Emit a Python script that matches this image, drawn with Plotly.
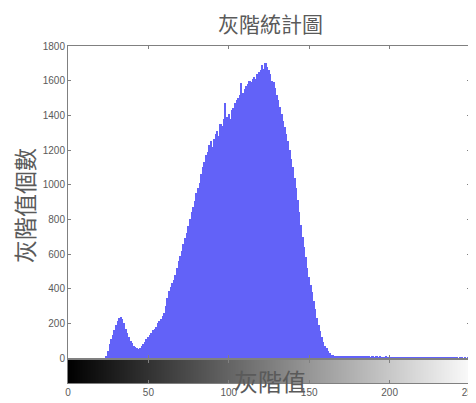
import plotly.graph_objects as go

levels = list(range(256))
counts = [
    0, 0, 0, 0, 0, 0, 0, 0, 0, 0, 0, 0, 0, 0, 0, 0,
    0, 0, 0, 0, 0, 0, 0, 0, 10, 40, 80, 110, 130, 160, 190, 215,
    230, 238, 225, 200, 170, 145, 120, 100, 85, 70, 62, 55, 50, 58, 70, 82,
    95, 110, 120, 135, 145, 160, 170, 180, 200, 215, 225, 240, 260, 300, 345, 385,
    410, 430, 450, 480, 520, 560, 590, 620, 655, 690, 720, 760, 800, 840, 870, 905,
    950, 980, 1010, 1060, 1100, 1130, 1170, 1190, 1230, 1250, 1215, 1265, 1290, 1310, 1280, 1350,
    1340, 1380, 1470, 1390, 1410, 1380, 1430, 1440, 1470, 1490, 1500, 1520, 1585, 1530, 1550, 1570,
    1580, 1600, 1590, 1610, 1620, 1610, 1640, 1650, 1660, 1690, 1670, 1700, 1680, 1660, 1640, 1600,
    1590, 1560, 1520, 1490, 1450, 1410, 1370, 1330, 1290, 1250, 1200, 1150, 1100, 1040, 980, 910,
    840, 770, 700, 640, 580, 520, 470, 420, 380, 330, 280, 230, 190, 155, 120, 95,
    70, 55, 40, 28, 20, 15, 12, 10, 11, 9, 10, 8, 9, 10, 8, 9,
    7, 8, 9, 7, 8, 6, 7, 8, 6, 7, 6, 7, 5, 6, 7, 5,
    6, 5, 6, 5, 4, 5, 6, 4, 5, 4, 3, 4, 5, 3, 4, 3,
    4, 3, 2, 3, 4, 3, 2, 3, 2, 3, 2, 2, 3, 2, 2, 3,
    2, 2, 1, 2, 2, 1, 2, 1, 2, 1, 1, 2, 1, 1, 1, 2,
    1, 1, 1, 0, 1, 1, 0, 1, 0, 1, 0, 0, 1, 0, 0, 0,
]
y_ticks = [0, 200, 400, 600, 800, 1000, 1200, 1400, 1600, 1800]
x_ticks = [0, 50, 100, 150, 200, 250]

title_text = "灰階統計圖"
ylabel_text = "灰階值個數"
xlabel_text = "灰階值"

CJK = "Noto Sans CJK TC"
GRAY = "#808080"
TXT = "#5a5a5a"

# the page body has an 8px default margin, so the figure is shifted by 8px
OFF = 8
W, H = 476 - OFF, 403 - OFF
L = 68 - OFF
R = W - (470 - OFF)
T = 46 - OFF
B = H - (383 - OFF)
PW = W - L - R
PH = H - T - B


def px(xp):
    return (xp - OFF - L) / PW


def py(yp):
    return (H - (yp - OFF) - B) / PH


fig = go.Figure()
fig.add_trace(go.Bar(
    x=levels, y=counts, width=1.0,
    marker=dict(color="rgb(98,98,248)", line=dict(width=0)),
    xaxis="x", yaxis="y", showlegend=False,
))
fig.add_trace(go.Heatmap(
    x=levels, y=[0], z=[levels],
    colorscale=[[0, "black"], [1, "white"]], zmin=0, zmax=255,
    showscale=False, xaxis="x2", yaxis="y2",
))

common_x = dict(range=[0, 250], tickvals=x_ticks, ticks="inside", ticklen=3,
                tickcolor=GRAY, showline=True, linecolor=GRAY, linewidth=1,
                mirror="ticks", showgrid=False, zeroline=False)

fig.update_layout(
    width=W, height=H,
    margin=dict(l=L, r=R, t=T, b=B, autoexpand=False),
    paper_bgcolor="white", plot_bgcolor="white",
    bargap=0,
    xaxis=dict(domain=[0, 1], anchor="y", showticklabels=False, **common_x),
    yaxis=dict(domain=[py(358), 1], range=[0, 1800], tickvals=y_ticks,
               ticks="inside", ticklen=3, tickcolor=GRAY, showline=True,
               linecolor=GRAY, linewidth=1, mirror="ticks", showgrid=False,
               zeroline=False, tickfont=dict(family="Liberation Sans", size=10, color=TXT)),
    xaxis2=dict(domain=[0, 1], anchor="y2", ticklabeloverflow="allow",
                tickfont=dict(family="Liberation Sans", size=10, color=TXT), **common_x),
    yaxis2=dict(domain=[0, py(360)], range=[-0.5, 0.5], showticklabels=False,
                showgrid=False, zeroline=False, showline=True, linecolor=GRAY, mirror=True),
    annotations=[
        dict(text=title_text, x=px(270), y=py(23), xref="paper", yref="paper",
             xanchor="center", yanchor="middle", showarrow=False,
             font=dict(family=CJK, size=21, color=TXT)),
        dict(text=xlabel_text, x=px(270), y=py(380), xref="paper", yref="paper",
             xanchor="center", yanchor="middle", showarrow=False,
             font=dict(family=CJK, size=24, color=TXT)),
        dict(text=ylabel_text, x=px(24), y=py(206), xref="paper", yref="paper",
             xanchor="center", yanchor="middle", showarrow=False, textangle=-90,
             font=dict(family=CJK, size=23, color=TXT)),
    ],
)

fig.write_html("out.html")
